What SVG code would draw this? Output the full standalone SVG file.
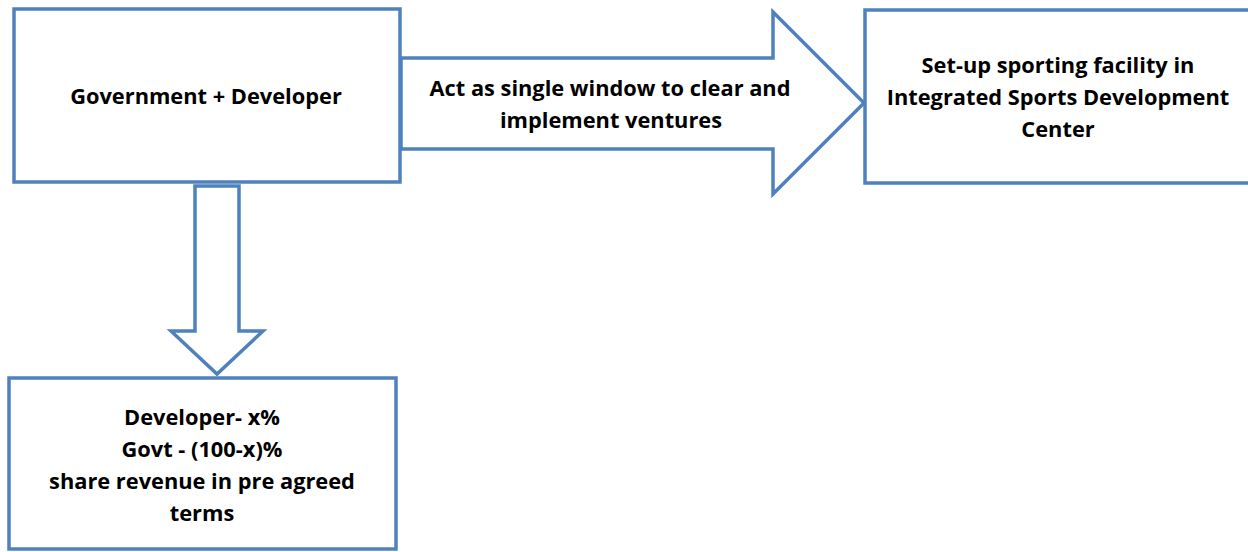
<svg xmlns="http://www.w3.org/2000/svg" width="1248" height="552" viewBox="0 0 1248 552">
<style>
.box{fill:#fff;stroke:#4F81BD;stroke-width:3.5}
.arr{fill:#fff;stroke:#4F81BD;stroke-width:3.5;stroke-linejoin:miter}
.t{font-family:"Open Sans","Liberation Sans",sans-serif;font-weight:bold;font-size:21.8px;fill:#000;text-anchor:middle}
</style>
<rect width="1248" height="552" fill="#fff"/>
<g id="connectors">
<path class="arr" d="M401,58 H773 V12 L864,103 L773,194 V149 H401 Z"/>
<path class="arr" d="M195,186 H239 V331 H263 L217,374 L171,331 H195 Z"/>
<text class="t" x="610" y="96">Act as single window to clear and</text>
<text class="t" x="611" y="128">implement ventures</text>
</g>
<g id="gov">
<rect class="box" x="14" y="9" width="386" height="173"/>
<text class="t" x="206" y="104">Government + Developer</text>
</g>
<g id="facility">
<rect class="box" x="865" y="10" width="390" height="173"/>
<text class="t" x="1058" y="73">Set-up sporting facility in</text>
<text class="t" x="1058" y="105">Integrated Sports Development</text>
<text class="t" x="1058" y="137">Center</text>
</g>
<g id="share">
<rect class="box" x="9" y="378" width="387" height="171"/>
<text class="t" x="202" y="425">Developer- x%</text>
<text class="t" x="202" y="457">Govt - (100-x)%</text>
<text class="t" x="202" y="489">share revenue in pre agreed</text>
<text class="t" x="202" y="521">terms</text>
</g>
</svg>
